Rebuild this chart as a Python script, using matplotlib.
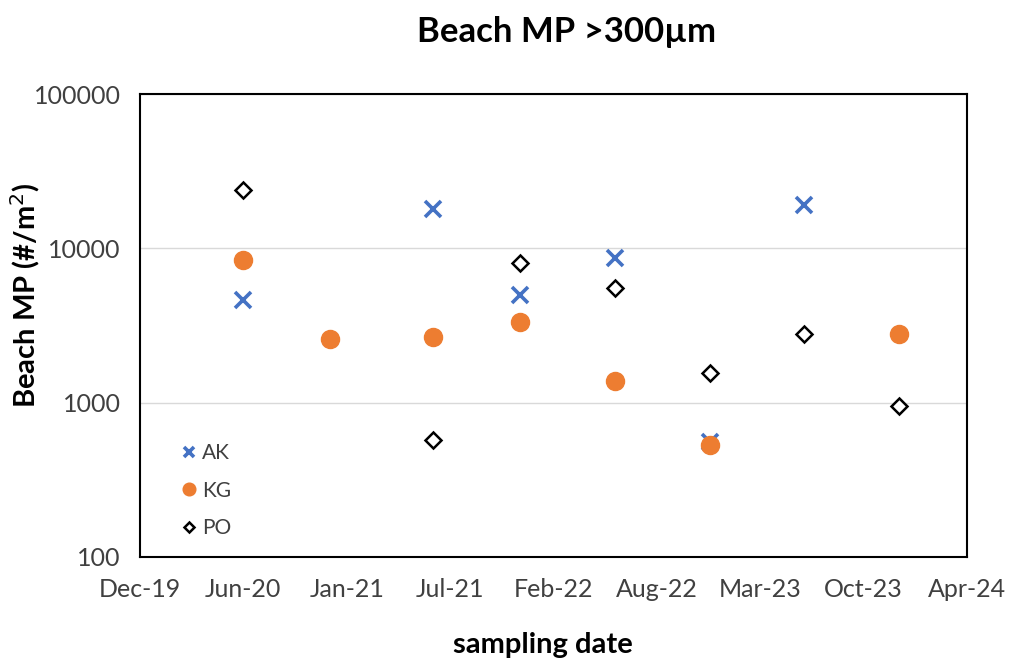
import datetime as dt

import matplotlib
matplotlib.use("Agg")
import matplotlib.pyplot as plt
import matplotlib.dates as mdates
from matplotlib.ticker import FixedLocator, NullLocator

plt.rcParams["font.family"] = ["Lato", "DejaVu Sans"]

# sampling dates and counts per site (#/m2)
ak_dates = ["2020-06-17", "2021-06-20", "2021-12-05", "2022-06-07", "2022-12-07", "2023-06-07"]
ak_values = [4600, 18000, 5000, 8700, 560, 19000]

kg_dates = ["2020-06-17", "2020-12-02", "2021-06-20", "2021-12-05", "2022-06-07", "2022-12-07", "2023-12-08"]
kg_values = [8400, 2600, 2650, 3350, 1380, 530, 2800]

po_dates = ["2020-06-17", "2021-06-20", "2021-12-05", "2022-06-07", "2022-12-07", "2023-06-07", "2023-12-08"]
po_values = [24000, 570, 8000, 5500, 1550, 2800, 950]

y_ticks = [100, 1000, 10000, 100000]


def to_dates(strings):
    return [dt.datetime.strptime(s, "%Y-%m-%d") for s in strings]


def serial_to_date(n):
    # spreadsheet-style day serials -> datetime
    return dt.datetime(1899, 12, 30) + dt.timedelta(days=n)


x_ticks = [serial_to_date(43800 + 200 * k) for k in range(9)]

W, H = 1011, 658
fig = plt.figure(figsize=(W / 100, H / 100), dpi=100)
ax = fig.add_axes([140 / W, 1 - 557 / H, 827 / W, 463 / H])

ax.plot(to_dates(ak_dates), ak_values, linestyle="none", marker="x",
        markersize=11, markeredgewidth=2.6, color="#4472C4", label="AK", zorder=3)
ax.plot(to_dates(kg_dates), kg_values, linestyle="none", marker="o",
        markersize=13, color="#ED7D31", label="KG", zorder=3)
ax.plot(to_dates(po_dates), po_values, linestyle="none", marker="D",
        markersize=8, markeredgewidth=1.8, markerfacecolor="white",
        markeredgecolor="black", label="PO", zorder=4)

ax.set_yscale("log")
ax.set_ylim(100, 100000)
ax.yaxis.set_major_locator(FixedLocator(y_ticks))
ax.yaxis.set_minor_locator(NullLocator())
ax.set_yticklabels([str(v) for v in y_ticks])

ax.set_xlim(x_ticks[0], x_ticks[-1])
ax.xaxis.set_major_locator(FixedLocator(mdates.date2num(x_ticks)))
ax.xaxis.set_major_formatter(mdates.DateFormatter("%b-%y"))

ax.grid(axis="y", color="#D9D9D9", linewidth=1)
ax.set_axisbelow(True)
for s in ax.spines.values():
    s.set_linewidth(1.5)
    s.set_color("black")

ax.tick_params(axis="x", length=0, labelsize=18, colors="#404040", pad=15)
ax.tick_params(axis="y", length=0, labelsize=18, colors="#404040", pad=14)

# titles placed in figure pixels
fig.text(567 / W, 1 - 32 / H, "Beach MP >300µm", fontsize=25, fontweight="bold",
         ha="center", va="center")
fig.text(25 / W, 1 - 295 / H, "Beach MP (#/m$^2$)", fontsize=21, fontweight="bold",
         ha="center", va="center", rotation=90)
fig.text(543 / W, 1 - 645 / H, "sampling date", fontsize=21, fontweight="bold",
         ha="center", va="center")

leg = ax.legend(loc="lower left", bbox_to_anchor=(0.028, 0.0), frameon=False,
                fontsize=15, handlelength=0.7, handletextpad=0.25,
                labelspacing=0.85, markerscale=0.7)
for t in leg.get_texts():
    t.set_color("#404040")

fig.savefig("out.png", dpi=100)
